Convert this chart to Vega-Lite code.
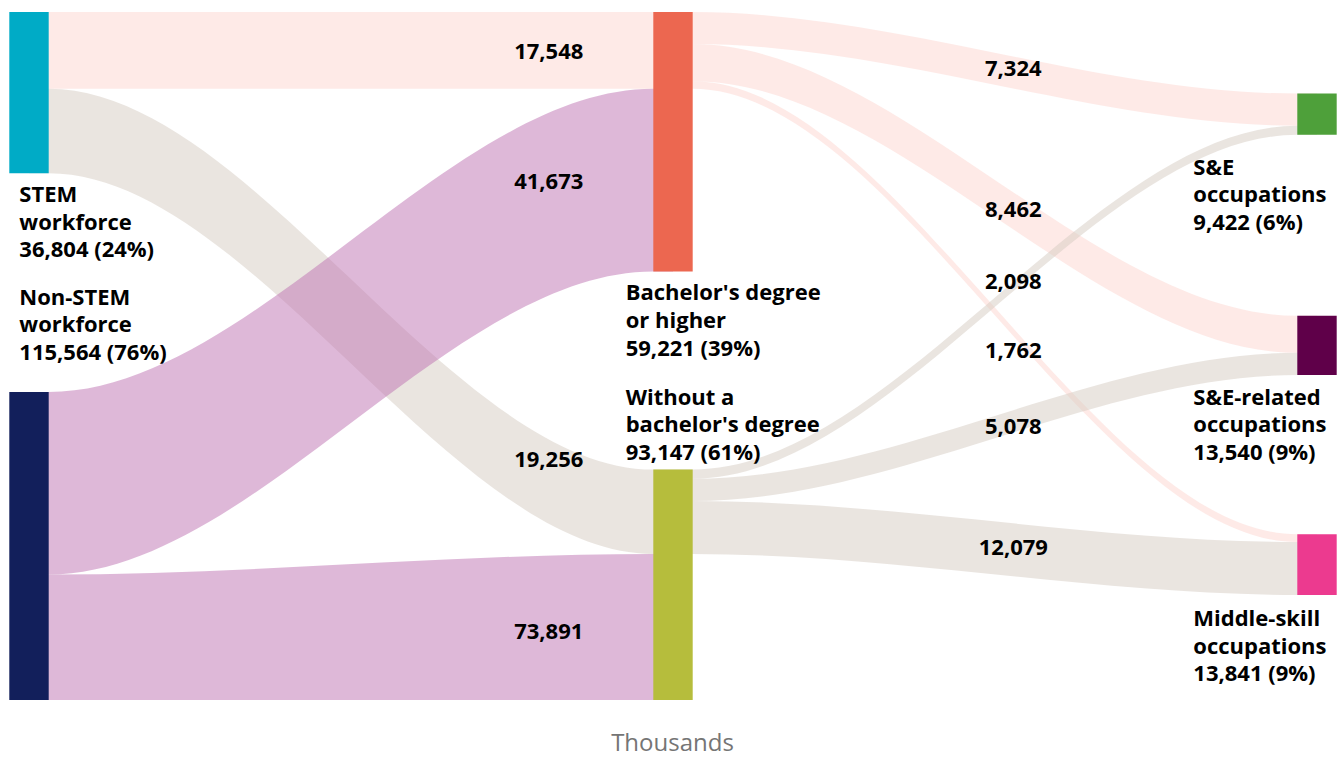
{
  "$schema": "https://vega.github.io/schema/vega-lite/v6.json",
  "width": 1338,
  "height": 688,
  "autosize": {"type": "none"},
  "padding": {"top": 12, "bottom": 57, "left": 0, "right": 0},
  "background": "white",
  "config": {"view": {"stroke": null}, "font": "Open Sans"},
  "title": {"text": "Thousands", "orient": "bottom", "anchor": "middle", "frame": "group", "offset": 32, "dx": 3.5, "font": "Open Sans", "fontSize": 24, "fontWeight": "normal", "color": "#757575"},
  "datasets": {
    "nodes": [
      {"node": "STEM workforce", "stage": 0, "top": 0, "bottom": 36.804, "label": "STEM\nworkforce\n36,804 (24%)", "labelY": 43.38},
      {"node": "Non-STEM workforce", "stage": 0, "top": 86.76, "bottom": 202.324, "label": "Non-STEM\nworkforce\n115,564 (76%)", "labelY": 66.8},
      {"node": "Bachelor's degree or higher", "stage": 1, "top": 0, "bottom": 59.221, "label": "Bachelor's degree\nor higher\n59,221 (39%)", "labelY": 65.82},
      {"node": "Without a bachelor's degree", "stage": 1, "top": 104.47, "bottom": 197.617, "label": "Without a\nbachelor's degree\n93,147 (61%)", "labelY": 89.63},
      {"node": "S&E occupations", "stage": 2, "top": 18.63, "bottom": 28.052, "label": "S&E\noccupations\n9,422 (6%)", "labelY": 37.12},
      {"node": "S&E-related occupations", "stage": 2, "top": 69.36, "bottom": 82.9, "label": "S&E-related\noccupations\n13,540 (9%)", "labelY": 89.63},
      {"node": "Middle-skill occupations", "stage": 2, "top": 119.25, "bottom": 133.091, "label": "Middle-skill\noccupations\n13,841 (9%)", "labelY": 140.18}
    ],
    "flows": [
      {"flow": "STEM>Bachelor", "grp": "pink", "x": 0, "top": 0, "bottom": 17.548},
      {"flow": "STEM>Bachelor", "grp": "pink", "x": 0.0306, "top": 0, "bottom": 17.548},
      {"flow": "STEM>Bachelor", "grp": "pink", "x": 0.9694, "top": 0, "bottom": 17.548},
      {"flow": "STEM>Bachelor", "grp": "pink", "x": 1, "top": 0, "bottom": 17.548},
      {"flow": "STEM>NoBachelor", "grp": "beige", "x": 0, "top": 17.548, "bottom": 36.804},
      {"flow": "STEM>NoBachelor", "grp": "beige", "x": 0.0306, "top": 17.548, "bottom": 36.804},
      {"flow": "STEM>NoBachelor", "grp": "beige", "x": 0.9694, "top": 104.47, "bottom": 123.726},
      {"flow": "STEM>NoBachelor", "grp": "beige", "x": 1, "top": 104.47, "bottom": 123.726},
      {"flow": "Bachelor>S&E", "grp": "pink", "x": 1, "top": 0, "bottom": 7.324},
      {"flow": "Bachelor>S&E", "grp": "pink", "x": 1.0306, "top": 0, "bottom": 7.324},
      {"flow": "Bachelor>S&E", "grp": "pink", "x": 1.9694, "top": 18.63, "bottom": 25.954},
      {"flow": "Bachelor>S&E", "grp": "pink", "x": 2, "top": 18.63, "bottom": 25.954},
      {"flow": "Bachelor>S&E-related", "grp": "pink", "x": 1, "top": 7.324, "bottom": 15.786},
      {"flow": "Bachelor>S&E-related", "grp": "pink", "x": 1.0306, "top": 7.324, "bottom": 15.786},
      {"flow": "Bachelor>S&E-related", "grp": "pink", "x": 1.9694, "top": 69.36, "bottom": 77.822},
      {"flow": "Bachelor>S&E-related", "grp": "pink", "x": 2, "top": 69.36, "bottom": 77.822},
      {"flow": "Bachelor>Middle-skill", "grp": "pink", "x": 1, "top": 15.786, "bottom": 17.548},
      {"flow": "Bachelor>Middle-skill", "grp": "pink", "x": 1.0306, "top": 15.786, "bottom": 17.548},
      {"flow": "Bachelor>Middle-skill", "grp": "pink", "x": 1.9694, "top": 119.25, "bottom": 121.012},
      {"flow": "Bachelor>Middle-skill", "grp": "pink", "x": 2, "top": 119.25, "bottom": 121.012},
      {"flow": "NoBachelor>S&E", "grp": "beige", "x": 1, "top": 104.47, "bottom": 106.568},
      {"flow": "NoBachelor>S&E", "grp": "beige", "x": 1.0306, "top": 104.47, "bottom": 106.568},
      {"flow": "NoBachelor>S&E", "grp": "beige", "x": 1.9694, "top": 25.954, "bottom": 28.052},
      {"flow": "NoBachelor>S&E", "grp": "beige", "x": 2, "top": 25.954, "bottom": 28.052},
      {"flow": "NoBachelor>S&E-related", "grp": "beige", "x": 1, "top": 106.568, "bottom": 111.646},
      {"flow": "NoBachelor>S&E-related", "grp": "beige", "x": 1.0306, "top": 106.568, "bottom": 111.646},
      {"flow": "NoBachelor>S&E-related", "grp": "beige", "x": 1.9694, "top": 77.822, "bottom": 82.9},
      {"flow": "NoBachelor>S&E-related", "grp": "beige", "x": 2, "top": 77.822, "bottom": 82.9},
      {"flow": "NoBachelor>Middle-skill", "grp": "beige", "x": 1, "top": 111.646, "bottom": 123.725},
      {"flow": "NoBachelor>Middle-skill", "grp": "beige", "x": 1.0306, "top": 111.646, "bottom": 123.725},
      {"flow": "NoBachelor>Middle-skill", "grp": "beige", "x": 1.9694, "top": 121.012, "bottom": 133.091},
      {"flow": "NoBachelor>Middle-skill", "grp": "beige", "x": 2, "top": 121.012, "bottom": 133.091},
      {"flow": "NonSTEM>Bachelor", "grp": "lavender", "x": 0, "top": 86.76, "bottom": 128.433},
      {"flow": "NonSTEM>Bachelor", "grp": "lavender", "x": 0.0306, "top": 86.76, "bottom": 128.433},
      {"flow": "NonSTEM>Bachelor", "grp": "lavender", "x": 0.9694, "top": 17.548, "bottom": 59.221},
      {"flow": "NonSTEM>Bachelor", "grp": "lavender", "x": 1, "top": 17.548, "bottom": 59.221},
      {"flow": "NonSTEM>NoBachelor", "grp": "lavender", "x": 0, "top": 128.433, "bottom": 202.324},
      {"flow": "NonSTEM>NoBachelor", "grp": "lavender", "x": 0.0306, "top": 128.433, "bottom": 202.324},
      {"flow": "NonSTEM>NoBachelor", "grp": "lavender", "x": 0.9694, "top": 123.726, "bottom": 197.617},
      {"flow": "NonSTEM>NoBachelor", "grp": "lavender", "x": 1, "top": 123.726, "bottom": 197.617}
    ],
    "flowLabels": [
      {"value": 17548, "stage": 1, "labelY": 10.64},
      {"value": 41673, "stage": 1, "labelY": 40.32},
      {"value": 19256, "stage": 1, "labelY": 103.88},
      {"value": 73891, "stage": 1, "labelY": 143.06},
      {"value": 7324, "stage": 2, "labelY": 14.68},
      {"value": 8462, "stage": 2, "labelY": 46.8},
      {"value": 2098, "stage": 2, "labelY": 63.31},
      {"value": 1762, "stage": 2, "labelY": 78.9},
      {"value": 5078, "stage": 2, "labelY": 96.26},
      {"value": 12079, "stage": 2, "labelY": 124.04}
    ]
  },
  "resolve": {"scale": {"color": "independent"}},
  "layer": [
    {
      "data": {"name": "flows"},
      "transform": [{"filter": "datum.grp !== 'lavender'"}],
      "mark": {"type": "area", "interpolate": "monotone", "opacity": 0.5, "clip": true},
      "encoding": {
        "x": {"field": "x", "type": "quantitative", "scale": {"domain": [-0.045031, 2.032609], "nice": false, "zero": false, "padding": 0}, "axis": null},
        "y": {"field": "top", "type": "quantitative", "scale": {"domain": [0, 157.08], "reverse": true, "nice": false, "zero": false, "padding": 0}, "axis": null},
        "y2": {"field": "bottom"},
        "detail": {"field": "flow", "type": "nominal"},
        "color": {"field": "grp", "type": "nominal", "scale": {"domain": ["pink", "beige", "lavender"], "range": ["#FDD5CF", "#D5CBC1", "#BD71B1"]}, "legend": null}
      }
    },
    {
      "data": {"name": "flows"},
      "transform": [{"filter": "datum.grp === 'lavender'"}],
      "mark": {"type": "area", "interpolate": "monotone", "opacity": 0.5, "clip": true},
      "encoding": {
        "x": {"field": "x", "type": "quantitative", "scale": {"domain": [-0.045031, 2.032609], "nice": false, "zero": false, "padding": 0}, "axis": null},
        "y": {"field": "top", "type": "quantitative", "scale": {"domain": [0, 157.08], "reverse": true, "nice": false, "zero": false, "padding": 0}, "axis": null},
        "y2": {"field": "bottom"},
        "detail": {"field": "flow", "type": "nominal"},
        "color": {"field": "grp", "type": "nominal", "scale": {"domain": ["pink", "beige", "lavender"], "range": ["#FDD5CF", "#D5CBC1", "#BD71B1"]}, "legend": null}
      }
    },
    {
      "data": {"name": "nodes"},
      "mark": {"type": "bar", "width": 39.4, "clip": true},
      "encoding": {
        "x": {"field": "stage", "type": "quantitative", "scale": {"domain": [-0.045031, 2.032609], "nice": false, "zero": false, "padding": 0}, "axis": null},
        "y": {"field": "top", "type": "quantitative", "scale": {"domain": [0, 157.08], "reverse": true, "nice": false, "zero": false, "padding": 0}, "axis": null},
        "y2": {"field": "bottom"},
        "color": {"field": "node", "type": "nominal",
                  "scale": {"domain": ["STEM workforce", "Non-STEM workforce", "Bachelor's degree or higher", "Without a bachelor's degree", "S&E occupations", "S&E-related occupations", "Middle-skill occupations"],
                            "range": ["#00ABC6", "#121F5B", "#EC6750", "#B6BD3C", "#4EA03A", "#5F0049", "#EC3A8F"]},
                  "legend": null}
      }
    },
    {
      "data": {"name": "nodes"},
      "transform": [{"filter": "datum.stage === 0"}],
      "mark": {"type": "text", "align": "left", "baseline": "alphabetic", "dx": -9.7, "font": "Open Sans", "fontSize": 22, "fontWeight": "bold", "lineBreak": "\n", "lineHeight": 27.7, "color": "#000000"},
      "encoding": {
        "x": {"field": "stage", "type": "quantitative", "scale": {"domain": [-0.045031, 2.032609], "nice": false, "zero": false, "padding": 0}, "axis": null},
        "y": {"field": "labelY", "type": "quantitative", "scale": {"domain": [0, 157.08], "reverse": true, "nice": false, "zero": false, "padding": 0}, "axis": null},
        "text": {"field": "label", "type": "nominal"}
      }
    },
    {
      "data": {"name": "nodes"},
      "transform": [{"filter": "datum.stage === 1"}],
      "mark": {"type": "text", "align": "left", "baseline": "alphabetic", "dx": -47.3, "font": "Open Sans", "fontSize": 22, "fontWeight": "bold", "lineBreak": "\n", "lineHeight": 27.7, "color": "#000000"},
      "encoding": {
        "x": {"field": "stage", "type": "quantitative", "scale": {"domain": [-0.045031, 2.032609], "nice": false, "zero": false, "padding": 0}, "axis": null},
        "y": {"field": "labelY", "type": "quantitative", "scale": {"domain": [0, 157.08], "reverse": true, "nice": false, "zero": false, "padding": 0}, "axis": null},
        "text": {"field": "label", "type": "nominal"}
      }
    },
    {
      "data": {"name": "nodes"},
      "transform": [{"filter": "datum.stage === 2"}],
      "mark": {"type": "text", "align": "left", "baseline": "alphabetic", "dx": -123.7, "font": "Open Sans", "fontSize": 22, "fontWeight": "bold", "lineBreak": "\n", "lineHeight": 27.7, "color": "#000000"},
      "encoding": {
        "x": {"field": "stage", "type": "quantitative", "scale": {"domain": [-0.045031, 2.032609], "nice": false, "zero": false, "padding": 0}, "axis": null},
        "y": {"field": "labelY", "type": "quantitative", "scale": {"domain": [0, 157.08], "reverse": true, "nice": false, "zero": false, "padding": 0}, "axis": null},
        "text": {"field": "label", "type": "nominal"}
      }
    },
    {
      "data": {"name": "flowLabels"},
      "transform": [{"filter": "datum.stage === 1"}],
      "mark": {"type": "text", "align": "right", "baseline": "alphabetic", "dx": -89.7, "font": "Open Sans", "fontSize": 22, "fontWeight": "bold", "color": "#000000"},
      "encoding": {
        "x": {"field": "stage", "type": "quantitative", "scale": {"domain": [-0.045031, 2.032609], "nice": false, "zero": false, "padding": 0}, "axis": null},
        "y": {"field": "labelY", "type": "quantitative", "scale": {"domain": [0, 157.08], "reverse": true, "nice": false, "zero": false, "padding": 0}, "axis": null},
        "text": {"field": "value", "type": "quantitative", "format": ","}
      }
    },
    {
      "data": {"name": "flowLabels"},
      "transform": [{"filter": "datum.stage === 2"}],
      "mark": {"type": "text", "align": "center", "baseline": "alphabetic", "dx": -303.7, "font": "Open Sans", "fontSize": 22, "fontWeight": "bold", "color": "#000000"},
      "encoding": {
        "x": {"field": "stage", "type": "quantitative", "scale": {"domain": [-0.045031, 2.032609], "nice": false, "zero": false, "padding": 0}, "axis": null},
        "y": {"field": "labelY", "type": "quantitative", "scale": {"domain": [0, 157.08], "reverse": true, "nice": false, "zero": false, "padding": 0}, "axis": null},
        "text": {"field": "value", "type": "quantitative", "format": ","}
      }
    }
  ]
}
